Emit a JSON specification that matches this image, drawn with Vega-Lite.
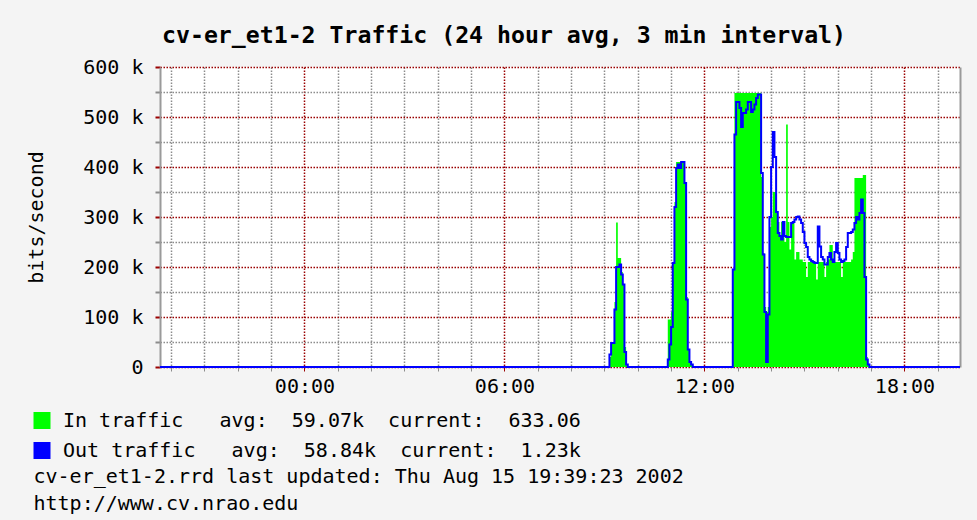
{
  "$schema": "https://vega.github.io/schema/vega-lite/v6.json",
  "width": 800,
  "height": 300,
  "autosize": {"type": "none"},
  "padding": {"left": 160, "top": 67, "right": 17, "bottom": 153},
  "background": "#f4f4f4",
  "title": {
    "text": "cv-er_et1-2 Traffic (24 hour avg, 3 min interval)",
    "anchor": "start", "frame": "group", "dx": 2, "dy": 24, "offset": 15,
    "font": "DejaVu Sans Mono", "fontSize": 23.2, "fontWeight": "bold",
    "color": "black", "baseline": "alphabetic"
  },
  "config": {
    "view": {"fill": "white", "stroke": null},
    "legend": {
      "orient": "none", "legendX": -128, "legendY": 343.5, "direction": "vertical",
      "symbolType": "square", "symbolSize": 240, "labelFont": "DejaVu Sans Mono",
      "labelFontSize": 20, "labelColor": "black", "labelOffset": 11, "rowPadding": 8,
      "padding": 0, "labelLimit": 900
    }
  },
  "data": {"values": [
    {"t": "2002-08-14T19:40", "in": 0, "out": 0},
    {"t": "2002-08-15T09:06", "in": 0, "out": 0},
    {"t": "2002-08-15T09:09", "in": 20000, "out": 25000},
    {"t": "2002-08-15T09:12", "in": 50000, "out": 48000},
    {"t": "2002-08-15T09:15", "in": 50000, "out": 48000},
    {"t": "2002-08-15T09:18", "in": 130000, "out": 115000},
    {"t": "2002-08-15T09:21", "in": 289000, "out": 200000},
    {"t": "2002-08-15T09:24", "in": 218000, "out": 200000},
    {"t": "2002-08-15T09:27", "in": 218000, "out": 205000},
    {"t": "2002-08-15T09:30", "in": 190000, "out": 185000},
    {"t": "2002-08-15T09:33", "in": 165000, "out": 165000},
    {"t": "2002-08-15T09:36", "in": 40000, "out": 30000},
    {"t": "2002-08-15T09:39", "in": 5000, "out": 5000},
    {"t": "2002-08-15T09:42", "in": 0, "out": 0},
    {"t": "2002-08-15T10:51", "in": 0, "out": 0},
    {"t": "2002-08-15T10:54", "in": 95000, "out": 15000},
    {"t": "2002-08-15T10:57", "in": 95000, "out": 45000},
    {"t": "2002-08-15T11:00", "in": 110000, "out": 80000},
    {"t": "2002-08-15T11:03", "in": 210000, "out": 208000},
    {"t": "2002-08-15T11:06", "in": 330000, "out": 320000},
    {"t": "2002-08-15T11:09", "in": 410000, "out": 398000},
    {"t": "2002-08-15T11:12", "in": 410000, "out": 405000},
    {"t": "2002-08-15T11:15", "in": 410000, "out": 398000},
    {"t": "2002-08-15T11:18", "in": 410000, "out": 410000},
    {"t": "2002-08-15T11:21", "in": 410000, "out": 410000},
    {"t": "2002-08-15T11:24", "in": 370000, "out": 368000},
    {"t": "2002-08-15T11:27", "in": 140000, "out": 135000},
    {"t": "2002-08-15T11:30", "in": 35000, "out": 35000},
    {"t": "2002-08-15T11:33", "in": 10000, "out": 10000},
    {"t": "2002-08-15T11:36", "in": 5000, "out": 5000},
    {"t": "2002-08-15T11:39", "in": 0, "out": 0},
    {"t": "2002-08-15T12:48", "in": 0, "out": 0},
    {"t": "2002-08-15T12:51", "in": 195000, "out": 195000},
    {"t": "2002-08-15T12:54", "in": 548000, "out": 465000},
    {"t": "2002-08-15T12:57", "in": 548000, "out": 530000},
    {"t": "2002-08-15T13:00", "in": 548000, "out": 530000},
    {"t": "2002-08-15T13:03", "in": 548000, "out": 518000},
    {"t": "2002-08-15T13:06", "in": 548000, "out": 480000},
    {"t": "2002-08-15T13:09", "in": 548000, "out": 508000},
    {"t": "2002-08-15T13:12", "in": 548000, "out": 508000},
    {"t": "2002-08-15T13:15", "in": 548000, "out": 515000},
    {"t": "2002-08-15T13:18", "in": 548000, "out": 530000},
    {"t": "2002-08-15T13:21", "in": 548000, "out": 530000},
    {"t": "2002-08-15T13:24", "in": 548000, "out": 510000},
    {"t": "2002-08-15T13:27", "in": 548000, "out": 515000},
    {"t": "2002-08-15T13:30", "in": 548000, "out": 525000},
    {"t": "2002-08-15T13:33", "in": 548000, "out": 538000},
    {"t": "2002-08-15T13:36", "in": 548000, "out": 545000},
    {"t": "2002-08-15T13:39", "in": 548000, "out": 545000},
    {"t": "2002-08-15T13:42", "in": 380000, "out": 388000},
    {"t": "2002-08-15T13:45", "in": 228000, "out": 225000},
    {"t": "2002-08-15T13:48", "in": 120000, "out": 110000},
    {"t": "2002-08-15T13:51", "in": 110000, "out": 10000},
    {"t": "2002-08-15T13:54", "in": 120000, "out": 105000},
    {"t": "2002-08-15T13:57", "in": 280000, "out": 300000},
    {"t": "2002-08-15T14:00", "in": 300000, "out": 400000},
    {"t": "2002-08-15T14:03", "in": 350000, "out": 470000},
    {"t": "2002-08-15T14:06", "in": 350000, "out": 420000},
    {"t": "2002-08-15T14:09", "in": 310000, "out": 310000},
    {"t": "2002-08-15T14:12", "in": 290000, "out": 268000},
    {"t": "2002-08-15T14:15", "in": 260000, "out": 262000},
    {"t": "2002-08-15T14:18", "in": 290000, "out": 255000},
    {"t": "2002-08-15T14:21", "in": 290000, "out": 290000},
    {"t": "2002-08-15T14:24", "in": 250000, "out": 262000},
    {"t": "2002-08-15T14:27", "in": 485000, "out": 260000},
    {"t": "2002-08-15T14:30", "in": 290000, "out": 260000},
    {"t": "2002-08-15T14:33", "in": 235000, "out": 260000},
    {"t": "2002-08-15T14:36", "in": 290000, "out": 288000},
    {"t": "2002-08-15T14:39", "in": 290000, "out": 290000},
    {"t": "2002-08-15T14:42", "in": 215000, "out": 295000},
    {"t": "2002-08-15T14:45", "in": 230000, "out": 300000},
    {"t": "2002-08-15T14:48", "in": 230000, "out": 301000},
    {"t": "2002-08-15T14:51", "in": 215000, "out": 295000},
    {"t": "2002-08-15T14:54", "in": 215000, "out": 288000},
    {"t": "2002-08-15T14:57", "in": 210000, "out": 270000},
    {"t": "2002-08-15T15:00", "in": 210000, "out": 248000},
    {"t": "2002-08-15T15:03", "in": 180000, "out": 240000},
    {"t": "2002-08-15T15:06", "in": 210000, "out": 220000},
    {"t": "2002-08-15T15:09", "in": 210000, "out": 215000},
    {"t": "2002-08-15T15:12", "in": 210000, "out": 212000},
    {"t": "2002-08-15T15:15", "in": 210000, "out": 210000},
    {"t": "2002-08-15T15:18", "in": 210000, "out": 208000},
    {"t": "2002-08-15T15:21", "in": 175000, "out": 208000},
    {"t": "2002-08-15T15:24", "in": 210000, "out": 281000},
    {"t": "2002-08-15T15:27", "in": 210000, "out": 241000},
    {"t": "2002-08-15T15:30", "in": 210000, "out": 220000},
    {"t": "2002-08-15T15:33", "in": 210000, "out": 215000},
    {"t": "2002-08-15T15:36", "in": 180000, "out": 205000},
    {"t": "2002-08-15T15:39", "in": 210000, "out": 205000},
    {"t": "2002-08-15T15:42", "in": 215000, "out": 220000},
    {"t": "2002-08-15T15:45", "in": 244000, "out": 228000},
    {"t": "2002-08-15T15:48", "in": 244000, "out": 215000},
    {"t": "2002-08-15T15:51", "in": 210000, "out": 210000},
    {"t": "2002-08-15T15:54", "in": 210000, "out": 230000},
    {"t": "2002-08-15T15:57", "in": 210000, "out": 248000},
    {"t": "2002-08-15T16:00", "in": 210000, "out": 228000},
    {"t": "2002-08-15T16:03", "in": 210000, "out": 215000},
    {"t": "2002-08-15T16:06", "in": 180000, "out": 210000},
    {"t": "2002-08-15T16:09", "in": 210000, "out": 212000},
    {"t": "2002-08-15T16:12", "in": 210000, "out": 215000},
    {"t": "2002-08-15T16:15", "in": 210000, "out": 240000},
    {"t": "2002-08-15T16:18", "in": 210000, "out": 268000},
    {"t": "2002-08-15T16:21", "in": 210000, "out": 268000},
    {"t": "2002-08-15T16:24", "in": 215000, "out": 270000},
    {"t": "2002-08-15T16:27", "in": 230000, "out": 275000},
    {"t": "2002-08-15T16:30", "in": 378000, "out": 288000},
    {"t": "2002-08-15T16:33", "in": 378000, "out": 300000},
    {"t": "2002-08-15T16:36", "in": 378000, "out": 295000},
    {"t": "2002-08-15T16:39", "in": 378000, "out": 308000},
    {"t": "2002-08-15T16:42", "in": 378000, "out": 335000},
    {"t": "2002-08-15T16:45", "in": 384000, "out": 308000},
    {"t": "2002-08-15T16:48", "in": 384000, "out": 180000},
    {"t": "2002-08-15T16:51", "in": 20000, "out": 15000},
    {"t": "2002-08-15T16:54", "in": 5000, "out": 5000},
    {"t": "2002-08-15T16:57", "in": 0, "out": 0},
    {"t": "2002-08-15T19:40", "in": 0, "out": 0}
  ]},
  "encoding": {
    "x": {
      "field": "t", "type": "temporal",
      "scale": {"domain": [
        {"year": 2002, "month": 8, "date": 14, "hours": 19, "minutes": 40},
        {"year": 2002, "month": 8, "date": 15, "hours": 19, "minutes": 40}
      ]},
      "axis": {
        "values": [
          {"year": 2002, "month": 8, "date": 14, "hours": 20},
          {"year": 2002, "month": 8, "date": 14, "hours": 21},
          {"year": 2002, "month": 8, "date": 14, "hours": 22},
          {"year": 2002, "month": 8, "date": 14, "hours": 23},
          {"year": 2002, "month": 8, "date": 15, "hours": 0},
          {"year": 2002, "month": 8, "date": 15, "hours": 1},
          {"year": 2002, "month": 8, "date": 15, "hours": 2},
          {"year": 2002, "month": 8, "date": 15, "hours": 3},
          {"year": 2002, "month": 8, "date": 15, "hours": 4},
          {"year": 2002, "month": 8, "date": 15, "hours": 5},
          {"year": 2002, "month": 8, "date": 15, "hours": 6},
          {"year": 2002, "month": 8, "date": 15, "hours": 7},
          {"year": 2002, "month": 8, "date": 15, "hours": 8},
          {"year": 2002, "month": 8, "date": 15, "hours": 9},
          {"year": 2002, "month": 8, "date": 15, "hours": 10},
          {"year": 2002, "month": 8, "date": 15, "hours": 11},
          {"year": 2002, "month": 8, "date": 15, "hours": 12},
          {"year": 2002, "month": 8, "date": 15, "hours": 13},
          {"year": 2002, "month": 8, "date": 15, "hours": 14},
          {"year": 2002, "month": 8, "date": 15, "hours": 15},
          {"year": 2002, "month": 8, "date": 15, "hours": 16},
          {"year": 2002, "month": 8, "date": 15, "hours": 17},
          {"year": 2002, "month": 8, "date": 15, "hours": 18},
          {"year": 2002, "month": 8, "date": 15, "hours": 19}
        ],
        "labelExpr": "hours(datum.value) % 6 == 0 ? timeFormat(datum.value, '%H:%M') : ''",
        "labelOverlap": false, "labelFlush": false,
        "grid": true,
        "gridColor": {"condition": {"test": "hours(datum.value) % 6 == 0", "value": "#9a0000"}, "value": "#8c8c8c"},
        "gridDash": [1.5, 1.5],
        "gridWidth": 1.5,
        "domain": false,
        "tickSize": 4,
        "tickColor": {"condition": {"test": "hours(datum.value) % 6 == 0", "value": "#9a0000"}, "value": "#8c8c8c"},
        "labelFont": "DejaVu Sans Mono", "labelFontSize": 20, "labelColor": "black", "labelPadding": 5,
        "title": ["cv-er_et1-2.rrd last updated: Thu Aug 15 19:39:23 2002", "http://www.cv.nrao.edu"],
        "titleX": -127, "titleY": 115, "titleAlign": "left", "titleAnchor": "start", "titleBaseline": "alphabetic",
        "titleFont": "DejaVu Sans Mono", "titleFontSize": 20, "titleFontWeight": "normal", "titleColor": "black",
        "titleLineHeight": 27
      }
    }
  },
  "layer": [
    {
      "mark": {"type": "area", "interpolate": "step-after"},
      "encoding": {
        "y": {
          "field": "in", "type": "quantitative",
          "scale": {"domain": [0, 600000], "nice": false, "zero": true},
          "axis": {
            "values": [0, 50000, 100000, 150000, 200000, 250000, 300000, 350000, 400000, 450000, 500000, 550000, 600000],
            "labelExpr": "datum.value == 0 ? '0' : (datum.value % 100000 == 0 ? (datum.value / 1000) + ' k' : '')",
            "grid": true,
            "gridColor": {"condition": {"test": "datum.value % 100000 == 0", "value": "#9a0000"}, "value": "#8c8c8c"},
            "gridDash": [1.5, 1.5],
            "gridWidth": 1.5,
            "domainColor": "#9a9a9a", "domainWidth": 2,
            "tickSize": 5,
            "tickColor": {"condition": {"test": "datum.value % 100000 == 0", "value": "#9a0000"}, "value": "#8c8c8c"},
            "tickWidth": 2,
            "labelFont": "DejaVu Sans Mono", "labelFontSize": 20, "labelColor": "black", "labelPadding": 12,
            "title": "bits/second", "titleX": -118, "titleY": 150, "titleAngle": -90,
            "titleAlign": "center", "titleBaseline": "alphabetic",
            "titleFont": "DejaVu Sans Mono", "titleFontSize": 20, "titleFontWeight": "normal", "titleColor": "black"
          }
        },
        "color": {
          "datum": "In\u00a0traffic\u00a0\u00a0\u00a0avg:\u00a0\u00a059.07k\u00a0\u00a0current:\u00a0\u00a0633.06",
          "type": "nominal",
          "scale": {
            "domain": [
              "In\u00a0traffic\u00a0\u00a0\u00a0avg:\u00a0\u00a059.07k\u00a0\u00a0current:\u00a0\u00a0633.06",
              "Out\u00a0traffic\u00a0\u00a0\u00a0avg:\u00a0\u00a058.84k\u00a0\u00a0current:\u00a0\u00a01.23k"
            ],
            "range": ["#00ff00", "#0000ff"]
          },
          "legend": {
            "title": null,
            "symbolType": "square",
            "encode": {"symbols": {"update": {
              "fill": {"scale": "color", "field": "value"},
              "stroke": {"value": "black"},
              "strokeWidth": {"value": 1.5},
              "opacity": {"value": 1}
            }}}
          }
        }
      }
    },
    {
      "mark": {"type": "line", "interpolate": "step-after", "strokeWidth": 2},
      "encoding": {
        "y": {
          "field": "out", "type": "quantitative",
          "scale": {"domain": [0, 600000], "nice": false, "zero": true},
          "axis": {
            "orient": "right", "labels": false, "ticks": false, "grid": false, "title": null,
            "domainColor": "#9a9a9a", "domainWidth": 2
          }
        },
        "color": {
          "datum": "Out\u00a0traffic\u00a0\u00a0\u00a0avg:\u00a0\u00a058.84k\u00a0\u00a0current:\u00a0\u00a01.23k",
          "type": "nominal"
        }
      }
    }
  ],
  "resolve": {"axis": {"y": "independent"}}
}
